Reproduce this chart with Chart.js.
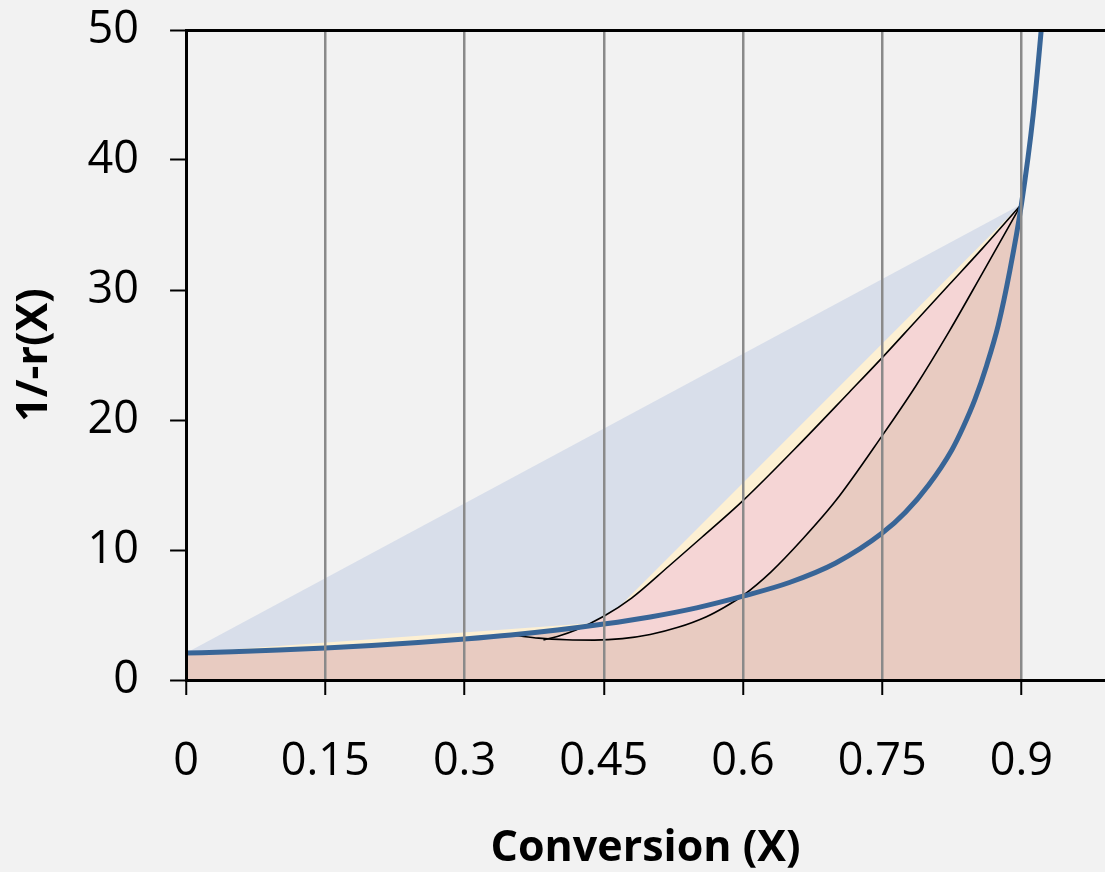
<!DOCTYPE html>
<html>
<head>
<meta charset="utf-8">
<script src="https://cdn.jsdelivr.net/npm/chart.js@4.4.1/dist/chart.umd.min.js"></script>
<style>
body{margin:0;background:#f2f2f2;}
#wrap{width:1105px;height:872px;}
</style>
</head>
<body>
<div id="wrap"><canvas id="chart"></canvas></div>
<script>

/* ================= DATA ================= */
let xTicks = [0, 0.15, 0.3, 0.45, 0.6, 0.75, 0.9];
let xTickLabels = ["0", "0.15", "0.3", "0.45", "0.6", "0.75", "0.9"];

// 1/-r(X) curve (blue)
let rateX = [0, 0.05, 0.1, 0.15, 0.2, 0.25, 0.3, 0.35, 0.4, 0.45, 0.5, 0.55, 0.6, 0.65, 0.7, 0.75, 0.775, 0.8, 0.825, 0.8375, 0.85, 0.8625, 0.875, 0.8875, 0.9, 0.9125, 0.925];
let rateY = [2.07, 2.17, 2.31, 2.47, 2.66, 2.88, 3.15, 3.46, 3.84, 4.3, 4.85, 5.55, 6.45, 7.5, 9.0, 11.3, 12.9, 15.0, 17.7, 19.5, 21.6, 24.2, 27.3, 31.5, 36.6, 43.4, 52.9];
let areaEndX = 0.9;

// upper black curve
let curveAX = [0.385, 0.40, 0.42, 0.45, 0.48, 0.52, 0.556, 0.6, 0.663, 0.714, 0.75, 0.786, 0.822, 0.858, 0.9];
let curveAY = [3.08, 3.35, 3.85, 4.9, 6.3, 8.75, 11.0, 13.8, 18.3, 22.1, 24.8, 27.6, 30.4, 33.2, 36.6];

// lower black curve
let curveBX = [0.355, 0.38, 0.41, 0.44, 0.47, 0.5, 0.53, 0.56, 0.58, 0.6, 0.63, 0.665, 0.7, 0.75, 0.786, 0.822, 0.858, 0.9];
let curveBY = [3.42, 3.22, 3.1, 3.07, 3.18, 3.5, 4.05, 4.85, 5.6, 6.5, 8.3, 10.9, 13.8, 18.8, 22.6, 26.8, 31.3, 36.6];

// straight-line estimates
let trap1X = [0, 0.9];
let trap1Y = [2.07, 36.6];
let trap2X = [0, 0.45, 0.9];
let trap2Y = [2.1, 4.45, 36.6];


/* ================= HELPERS ================= */
function pts(xs, ys){
return xs.map((x,i)=>({x:x, y:ys[i]}));
}

let font = "'Open Sans', 'DejaVu Sans', sans-serif";


/* ================= CHART ================= */
new Chart(document.getElementById("chart"), {
type: "line",
data: {
datasets: [
{
// blue curve
data: pts(rateX, rateY),
borderColor: "#386597",
borderWidth: 5,
fill: false,
cubicInterpolationMode: "monotone"
},
{
data: pts(curveBX, curveBY),
borderColor: "#000",
borderWidth: 1.6,
backgroundColor: "#e8cbc1",
fill: "origin",
cubicInterpolationMode: "monotone"
},
{
data: pts(curveAX, curveAY),
borderColor: "#000",
borderWidth: 1.6,
backgroundColor: "#f5d5d5",
fill: "origin",
cubicInterpolationMode: "monotone"
},
{
// area under blue curve up to 0.9
data: pts(rateX, rateY).filter(p=>p.x<=areaEndX),
borderColor: "rgba(0,0,0,0)",
borderWidth: 0,
backgroundColor: "#e8cbc1",
fill: "origin",
cubicInterpolationMode: "monotone"
},
{
data: pts(trap2X, trap2Y),
borderColor: "rgba(0,0,0,0)",
borderWidth: 0,
backgroundColor: "#fdf0d3",
fill: "origin",
tension: 0
},
{
data: pts(trap1X, trap1Y),
borderColor: "rgba(0,0,0,0)",
borderWidth: 0,
backgroundColor: "#d8deea",
fill: "origin",
tension: 0
}
]
},
options: {
responsive: true,
maintainAspectRatio: false,
animation: false,
layout: { padding: { top: 30, right: 0, bottom: 2, left: 0 } },
elements: { point: { radius: 0 } },
plugins: {
legend: { display: false },
tooltip: { enabled: false },
filler: { drawTime: "beforeDatasetsDraw" }
},
scales: {
x: {
type: "linear",
min: 0,
max: 0.99,
afterBuildTicks: s=>{ s.ticks = xTicks.map(v=>({value:v})); },
grid: {
z: 1,
color: c=> (c.tick && c.tick.value===0) ? "rgba(0,0,0,0)" : "#8a8a8a",
lineWidth: 2.5,
tickColor: "#000",
tickWidth: 2,
tickLength: 15
},
border: { color: "#000", width: 3, z: 2 },
ticks: {
callback: (v,i)=>xTickLabels[i],
autoSkip: false,
maxRotation: 0,
padding: 40,
color: "#000",
font: { family: font, size: 45 }
},
title: {
display: true,
text: "Conversion (X)",
color: "#000",
font: { family: font, size: 43, weight: "bold", lineHeight: 1 },
padding: { top: -2, bottom: 0 }
}
},
xTop: {
type: "linear",
position: "top",
min: 0,
max: 0.99,
grid: { display: false, drawTicks: false },
ticks: { display: false },
border: { color: "#000", width: 3, z: 2 }
},
y: {
min: 0,
max: 50,
afterFit: s=>{ s.paddingTop = 0; },
ticks: {
stepSize: 10,
padding: 31,
color: "#000",
font: { family: font, size: 45 }
},
grid: {
drawOnChartArea: false,
tickColor: "#000",
tickWidth: 2,
tickLength: 16
},
border: { color: "#000", width: 3, z: 2 },
title: {
display: true,
text: "1/-r(X)",
color: "#000",
font: { family: font, size: 43, weight: "bold" },
padding: { top: 9, bottom: -4 }
}
}
}
}
});

</script>
</body>
</html>
